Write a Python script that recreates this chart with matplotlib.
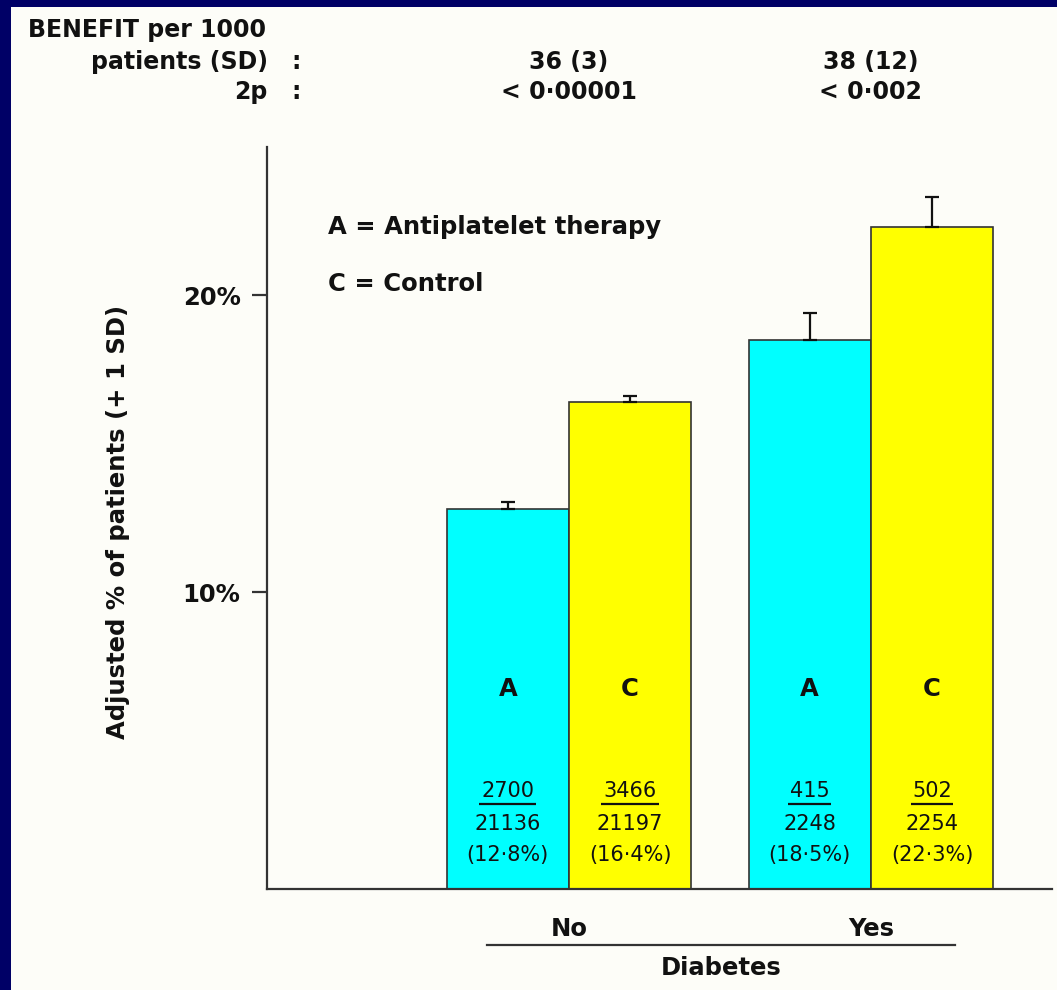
import matplotlib
matplotlib.use("Agg")
import matplotlib.pyplot as plt
from matplotlib.patches import Rectangle
from matplotlib.lines import Line2D
from matplotlib.transforms import blended_transform_factory

# ---- data -------------------------------------------------------------
groups = ["No", "Yes"]
rate_antiplatelet = [12.8, 18.5]
rate_control = [16.4, 22.3]
sd_antiplatelet = [0.25, 0.9]
sd_control = [0.2, 1.0]
events_antiplatelet = [2700, 415]
patients_antiplatelet = [21136, 2248]
events_control = [3466, 502]
patients_control = [21197, 2254]
benefit_per_1000 = ["36 (3)", "38 (12)"]
two_p = ["< 0\u00b700001", "< 0\u00b7002"]
y_ticks = [10, 20]
y_tick_labels = ["10%", "20%"]

# ---- style ------------------------------------------------------------
plt.rcParams["font.family"] = ["DejaVu Sans"]
W, H = 1057, 990
NAVY = "#000066"
PAPER = "#fdfdf8"
CYAN = "#00ffff"
YELLOW = "#ffff00"
INK = "#111111"
AXIS = "#333333"

fig = plt.figure(figsize=(W / 100, H / 100), dpi=100, facecolor=PAPER)


def fx(px):
    return px / W


def fy(py):
    return 1 - py / H


# navy frame along the left and top edges
fig.patches.append(Rectangle((0, 0), fx(11), 1, transform=fig.transFigure,
                             facecolor=NAVY, edgecolor="none", zorder=-10))
fig.patches.append(Rectangle((0, fy(7)), 1, 1 - fy(7), transform=fig.transFigure,
                             facecolor=NAVY, edgecolor="none", zorder=-10))

ax = fig.add_axes([fx(267), fy(889), fx(1052) - fx(267), fy(147) - fy(889)])
ax.set_facecolor("none")

centers = [1.0, 2.0]
width = 0.405
x_a = [c - width / 2 for c in centers]
x_c = [c + width / 2 for c in centers]

err_kw = dict(ecolor=INK, elinewidth=1.6, capsize=5, capthick=1.6)
ax.bar(x_a, rate_antiplatelet, width, color=CYAN, edgecolor=AXIS, linewidth=1.2,
       yerr=[[0, 0], sd_antiplatelet], error_kw=err_kw, zorder=2)
ax.bar(x_c, rate_control, width, color=YELLOW, edgecolor=AXIS, linewidth=1.2,
       yerr=[[0, 0], sd_control], error_kw=err_kw, zorder=2)

ax.set_xlim(0, 2.6)
ax.set_ylim(0, 25)

for side in ("top", "right"):
    ax.spines[side].set_visible(False)
for side in ("left", "bottom"):
    ax.spines[side].set_color(AXIS)
    ax.spines[side].set_linewidth(1.6)

ax.set_yticks(y_ticks)
ax.set_yticklabels(y_tick_labels, fontsize=17.5, fontweight="bold", color=INK)
ax.tick_params(axis="y", length=11, width=1.6, color=AXIS, pad=8)
ax.set_xticks(centers)
ax.set_xticklabels(groups, fontsize=17.5, fontweight="bold", color=INK)
ax.tick_params(axis="x", length=0, pad=20)


def pct(v):
    return "(" + f"{v:.1f}".replace(".", "\u00b7") + "%)"


# letters and counts inside the bars
num_texts = []
for xs, letter, ev, tot, rates in [
    (x_a, "A", events_antiplatelet, patients_antiplatelet, rate_antiplatelet),
    (x_c, "C", events_control, patients_control, rate_control),
]:
    for x, e, t, r in zip(xs, ev, tot, rates):
        ax.text(x, 6.75, letter, ha="center", va="center", fontsize=17.5,
                fontweight="bold", color=INK, zorder=3)
        tn = ax.text(x, 3.3, f"{e}", ha="center", va="center", fontsize=15,
                     color=INK, zorder=3)
        num_texts.append(tn)
        ax.text(x, 2.2, f"{t}", ha="center", va="center", fontsize=15,
                color=INK, zorder=3)
        ax.text(x, 1.15, pct(r), ha="center", va="center", fontsize=15,
                color=INK, zorder=3)

# key to the bar letters
key_x = (328 - 267) / (1052 - 267)
ax.text(key_x, (889 - 227) / (889 - 147), "A = Antiplatelet therapy",
        transform=ax.transAxes, ha="left", va="center",
        fontsize=17.5, fontweight="bold", color=INK)
ax.text(key_x, (889 - 284) / (889 - 147), "C = Control",
        transform=ax.transAxes, ha="left", va="center",
        fontsize=17.5, fontweight="bold", color=INK)

# y axis title
fig.text(fx(118), fy(522), "Adjusted % of patients (+ 1 SD)", rotation=90,
         ha="center", va="center", fontsize=17.5, fontweight="bold", color=INK)

# header block
fig.text(fx(28), fy(30), "BENEFIT per 1000", ha="left", va="center",
         fontsize=17, fontweight="bold", color=INK)
fig.text(fx(268), fy(62), "patients (SD)", ha="right", va="center",
         fontsize=17, fontweight="bold", color=INK)
fig.text(fx(268), fy(92), "2p", ha="right", va="center",
         fontsize=17, fontweight="bold", color=INK)
for yy in (62, 92):
    fig.text(fx(296), fy(yy), ":", ha="center", va="center",
             fontsize=17, fontweight="bold", color=INK)
hdr = blended_transform_factory(ax.transData, fig.transFigure)
for c, b, p in zip(centers, benefit_per_1000, two_p):
    fig.text(c, fy(62), b, transform=hdr, ha="center", va="center",
             fontsize=17, fontweight="bold", color=INK)
    fig.text(c, fy(92), p, transform=hdr, ha="center", va="center",
             fontsize=17, fontweight="bold", color=INK)

# group underline and title
fig.add_artist(Line2D([fx(487), fx(955)], [fy(945), fy(945)], color=AXIS,
                      linewidth=1.6, transform=fig.transFigure))
fig.text(fx(721), fy(968), "Diabetes", ha="center", va="center",
         fontsize=17.5, fontweight="bold", color=INK)

# underline the event counts (numerator of each fraction)
fig.canvas.draw()
renderer = fig.canvas.get_renderer()
inv = ax.transData.inverted()
for tn in num_texts:
    bb = tn.get_window_extent(renderer)
    (x0, _), (x1, _) = inv.transform([(bb.x0, 0), (bb.x1, 0)])
    pad = (x1 - x0) * 0.04
    ax.plot([x0 - pad, x1 + pad], [2.85, 2.85], color=INK, linewidth=1.6,
            zorder=3, solid_capstyle="butt")

fig.savefig("out.png", dpi=100, facecolor=PAPER)
